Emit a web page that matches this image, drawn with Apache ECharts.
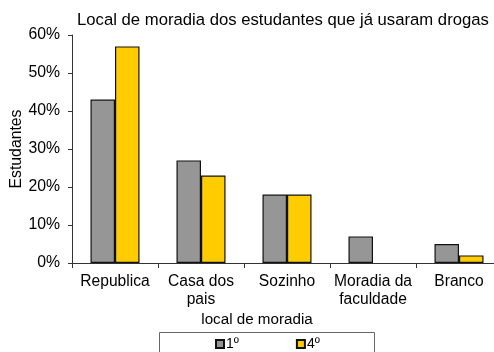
<!DOCTYPE html>
<html><head><meta charset="utf-8">
<script src="https://cdn.jsdelivr.net/npm/echarts@6/dist/echarts.min.js"></script>
<style>html,body{margin:0;padding:0;background:#fff}#c{width:494px;height:352px}</style>
</head><body><div id="c"></div>
<script>
const categories = ['Republica', 'Casa dos\npais', 'Sozinho', 'Moradia da\nfaculdade', 'Branco'];
const serie1 = [43, 27, 18, 7, 5];
const serie4 = [57, 23, 18, 0, 2];
const seriesNames = ['1º', '4º'];
const yTicks = [0, 10, 20, 30, 40, 50, 60];

const font = 'Liberation Sans, Arial, sans-serif';
const noZero = arr => arr.map(v => v === 0 ? '-' : v);
const chart = echarts.init(document.getElementById('c'), null, {renderer: 'canvas'});
chart.setOption({
  animation: false,
  backgroundColor: '#fff',
  title: {
    text: 'Local de moradia dos estudantes que já usaram drogas',
    left: 72, top: 7,
    textStyle: {fontFamily: font, fontSize: 16.7, fontWeight: 'normal', color: '#000'}
  },
  grid: {left: 72, width: 430, top: 35, bottom: 89, containLabel: false, outerBoundsMode: 'none'},
  legend: {
    data: seriesNames,
    left: 210, top: 332,
    itemWidth: 8, itemHeight: 8, itemGap: 57,
    icon: 'rect',
    textStyle: {fontFamily: font, fontSize: 14, color: '#000', padding: [0, 0, 0, -3]}
  },
  graphic: [{
    type: 'rect', shape: {x: 159.5, y: 332.5, width: 215, height: 30},
    style: {fill: 'none', stroke: '#666', lineWidth: 1}, silent: true, z: -1
  }],
  xAxis: {
    type: 'category', data: categories,
    name: 'local de moradia', nameLocation: 'middle', nameGap: 49, nameMoveOverlap: false,
    nameTextStyle: {fontFamily: font, fontSize: 15.2, color: '#000', padding: [0, 60, 0, 0]},
    axisLine: {lineStyle: {color: '#333', width: 1}},
    axisTick: {show: true, length: 5, lineStyle: {color: '#333'}},
    axisLabel: {fontFamily: font, fontSize: 15.6, color: '#000', margin: 10, lineHeight: 18, interval: 0}
  },
  yAxis: {
    type: 'value', min: 0, max: 60, interval: 10,
    name: 'Estudantes', nameLocation: 'middle', nameGap: 47, nameRotate: 90, nameMoveOverlap: false,
    nameTextStyle: {fontFamily: font, fontSize: 15.8, color: '#000'},
    axisLine: {show: true, lineStyle: {color: '#333', width: 1}},
    axisTick: {show: true, length: 4, inside: false, lineStyle: {color: '#333'}},
    splitLine: {show: false},
    axisLabel: {fontFamily: font, fontSize: 15.8, color: '#000', margin: 12,
      formatter: v => yTicks.includes(v) ? v + '%' : ''}
  },
  series: [
    {name: seriesNames[0], type: 'bar', data: noZero(serie1), barGap: '0%', barCategoryGap: '43%',
     itemStyle: {color: '#969696', borderColor: '#111', borderWidth: 1.2}},
    {name: seriesNames[1], type: 'bar', data: noZero(serie4), barGap: '0%', barCategoryGap: '43%',
     itemStyle: {color: '#FFCC00', borderColor: '#111', borderWidth: 1.2}}
  ]
});
</script></body></html>
